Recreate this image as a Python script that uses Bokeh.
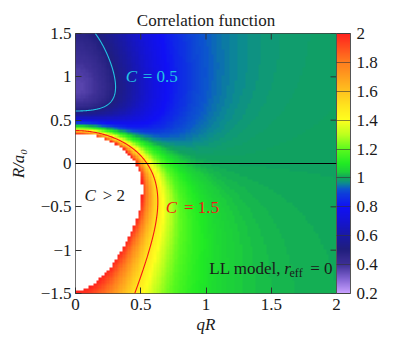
import numpy as np
from bokeh.plotting import figure
from bokeh.models import (LinearColorMapper, ColorBar, FixedTicker,
                          Span, Label)
from bokeh.embed import file_html
from bokeh.resources import INLINE

# ---------------- chart content ----------------
TITLE = "Correlation function"
X_LABEL = "qR"
Y_LABEL = "R/a₀"
x_ticks = [0, 0.5, 1, 1.5, 2]
x_tick_labels = ["0", "0.5", "1", "1.5", "2"]
y_ticks = [-1.5, -1, -0.5, 0, 0.5, 1, 1.5]
y_tick_labels = ["−1.5", "−1", "−0.5", "0", "0.5", "1", "1.5"]
cbar_ticks = [0.2, 0.4, 0.6, 0.8, 1.0, 1.2, 1.4, 1.6, 1.8, 2.0]
cbar_tick_labels = ["0.2", "0.4", "0.6", "0.8", "1", "1.2", "1.4", "1.6", "1.8", "2"]
c_low, c_high = 0.2, 2.0
qR_range = [0.0, 2.0]
Ra0_range = [-1.5, 1.5]
contour_levels = [0.5, 1.5]
contour_colors = ["#22c4e4", "#f51515"]
r_eff_over_R = 0.0          # LL model, r_eff = 0
n_cells = 100               # heat-map resolution

# colour map anchors (value, rgb)
cmap_values = [0.2, 0.3, 0.4, 0.5, 0.6, 0.7, 0.8, 0.87, 0.92, 0.96, 0.98, 1.0,
               1.04, 1.1, 1.2, 1.3, 1.4, 1.5, 1.6, 1.8, 2.0]
cmap_rgb = [(200, 160, 255), (130, 100, 210), (62, 48, 150), (32, 30, 125),
            (25, 25, 165), (20, 20, 210), (16, 16, 245), (14, 50, 225),
            (12, 85, 205), (12, 138, 146), (16, 156, 112), (16, 162, 94),
            (28, 205, 60), (32, 235, 36), (90, 250, 30), (185, 255, 30),
            (255, 255, 30), (255, 228, 30), (255, 195, 30), (255, 125, 30),
            (255, 35, 30)]

# ---------------- Lednicky-Lyuboshitz model ----------------
def F1(z):
    s = np.linspace(0.0, 1.0, 2001)
    return np.trapezoid(np.exp(np.outer(z ** 2, s ** 2 - 1.0)), s, axis=1)

def F2(z):
    out = np.zeros_like(z)
    nz = z > 0
    out[nz] = -np.expm1(-z[nz] ** 2) / z[nz]
    return out

def corr(qR, Ra0):
    X, Y = np.meshgrid(qR, Ra0)
    f = 1.0 / (-Y + 0.5 * r_eff_over_R * X ** 2 - 1j * X)
    f1 = F1(2 * qR)[None, :]
    f2 = F2(2 * qR)[None, :]
    C = (1 + 0.5 * np.abs(f) ** 2 * (1 - r_eff_over_R / (2 * np.sqrt(np.pi)))
         + 2 * f.real / np.sqrt(np.pi) * f1 - f.imag * f2)
    return C

with np.errstate(all="ignore"):
    dx = (qR_range[1] - qR_range[0]) / n_cells
    dy = (Ra0_range[1] - Ra0_range[0]) / n_cells
    qR_c = qR_range[0] + (np.arange(n_cells) + 0.5) * dx
    Ra0_c = Ra0_range[0] + (np.arange(n_cells) + 0.5) * dy
    C_img = corr(qR_c, Ra0_c)
    qR_f = np.linspace(qR_range[0], qR_range[1], 401)
    Ra0_f = np.linspace(Ra0_range[0], Ra0_range[1], 401)
    C_fine = corr(qR_f, Ra0_f)
    C_fine = np.where(np.isfinite(C_fine), C_fine, 50.0)
    C_fine = np.minimum(C_fine, 50.0)

# palette
vals = np.linspace(c_low, c_high, 256)
rgb = np.array(cmap_rgb, dtype=float)
palette = []
for v in vals:
    r = np.interp(v, cmap_values, rgb[:, 0])
    g = np.interp(v, cmap_values, rgb[:, 1])
    b = np.interp(v, cmap_values, rgb[:, 2])
    palette.append("#%02x%02x%02x" % (int(round(r)), int(round(g)), int(round(b))))

FONT = "Liberation Serif"
FS = "17px"
TXT = "#1a1a1a"

mapper = LinearColorMapper(palette=palette, low=c_low, high=c_high,
                           high_color="white", nan_color="white")

p = figure(x_range=tuple(qR_range), y_range=tuple(Ra0_range),
           frame_width=261, frame_height=260,
           output_backend="svg", toolbar_location=None,
           min_border_left=75, min_border_top=33, min_border_bottom=10,
           min_border_right=0, background_fill_color="white",
           border_fill_color="white")

p.title.text = TITLE
p.title.align = "center"
p.title.text_font = FONT
p.title.text_font_size = FS
p.title.text_font_style = "normal"
p.title.text_color = TXT
p.title.standoff = 8

p.image(image=[C_img], x=qR_range[0], y=Ra0_range[0],
        dw=qR_range[1] - qR_range[0], dh=Ra0_range[1] - Ra0_range[0],
        color_mapper=mapper)

p.contour(qR_f, Ra0_f, C_fine, levels=contour_levels,
          line_color=contour_colors, line_width=1.1)

p.add_layout(Span(location=0, dimension="width", line_color="black",
                  line_width=1))

# mirrored tick marks on top and right edges
p.ray(x=x_ticks, y=[Ra0_range[1]] * len(x_ticks), length=6,
      length_units="screen", angle=-np.pi / 2, line_color="#303030")
p.ray(x=[qR_range[1]] * len(y_ticks), y=y_ticks, length=6,
      length_units="screen", angle=np.pi, line_color="#303030")

p.grid.visible = False
p.outline_line_color = "#404040"
p.outline_line_width = 1

def style_axis(ax, ticks, labels):
    ax.ticker = FixedTicker(ticks=ticks)
    ax.major_label_overrides = {t: l for t, l in zip(ticks, labels)}
    ax.major_tick_in = 6
    ax.major_tick_out = 0
    ax.minor_tick_line_color = None
    ax.axis_line_color = None
    ax.major_tick_line_color = "#303030"
    ax.major_label_text_font = FONT
    ax.major_label_text_font_size = FS
    ax.major_label_text_color = TXT
    ax.axis_label_text_font = FONT
    ax.axis_label_text_font_size = FS
    ax.axis_label_text_font_style = "italic"
    ax.axis_label_text_color = TXT

style_axis(p.xaxis[0], x_ticks, x_tick_labels)
style_axis(p.yaxis[0], y_ticks, y_tick_labels)
p.xaxis[0].axis_label = X_LABEL
p.xaxis[0].major_label_standoff = 5
p.xaxis[0].axis_label_standoff = 2
p.yaxis[0].axis_label = Y_LABEL
p.yaxis[0].major_label_standoff = 4
p.yaxis[0].axis_label_standoff = 10

cb = ColorBar(color_mapper=mapper, ticker=FixedTicker(ticks=cbar_ticks),
              major_label_overrides={t: l for t, l in zip(cbar_ticks, cbar_tick_labels)},
              width=14, padding=0, margin=7, label_standoff=6,
              major_tick_in=14, major_tick_out=0,
              major_tick_line_color="#333333", major_tick_line_alpha=0.6,
              minor_tick_line_color=None,
              bar_line_color="#555555", border_line_color=None,
              background_fill_color=None,
              major_label_text_font=FONT, major_label_text_font_size=FS,
              major_label_text_color=TXT)
p.add_layout(cb, "right")

# annotations
def lab(x, y, text, color=TXT, style="normal", align="left", size=FS, yoff=0):
    p.add_layout(Label(x=x, y=y, text=text, text_color=color, text_font=FONT,
                       text_font_size=size, text_font_style=style,
                       text_align=align, text_baseline="middle", y_offset=yoff))

lab(0.385, 1.0, "C", contour_colors[0], "italic")
lab(0.515, 1.0, "= 0.5", contour_colors[0])
lab(0.692, -0.51, "C", contour_colors[1], "italic")
lab(0.831, -0.51, "= 1.5", contour_colors[1])
lab(0.069, -0.37, "C", style="italic")
lab(0.208, -0.37, "> 2")
lab(1.97, -1.21, "= 0", align="right")
lab(1.64, -1.21, "eff", size="12px", yoff=-5)
lab(1.60, -1.21, "r", style="italic")
lab(1.575, -1.21, "LL model,", align="right")

open("out.html", "w").write(file_html(p, INLINE))
